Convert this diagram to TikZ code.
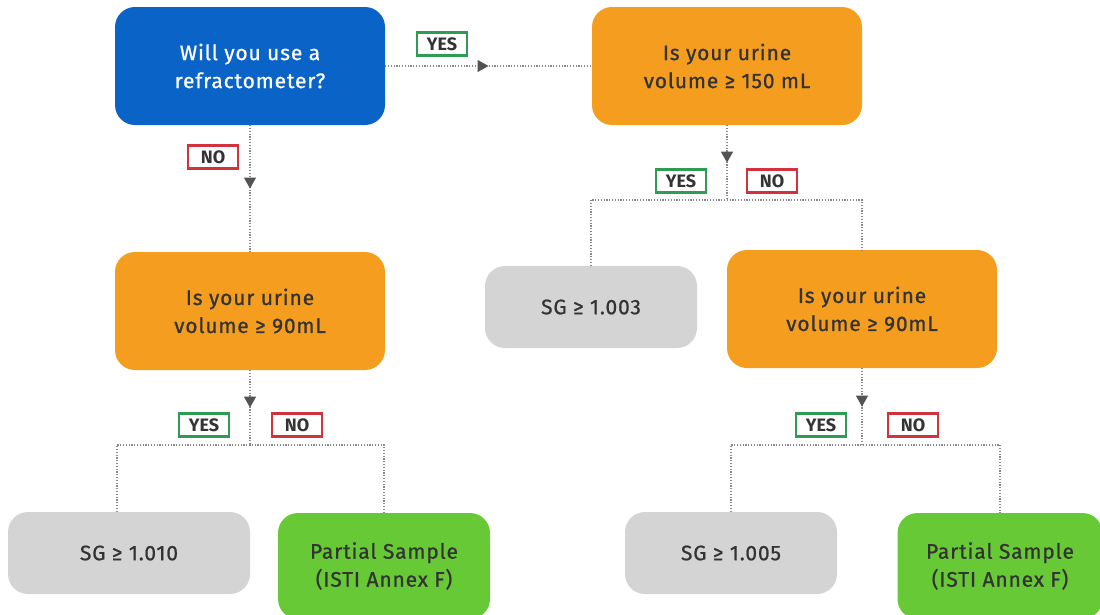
\documentclass[tikz,border=0pt]{standalone}
\usepackage{fontspec}
\setmainfont{Fira Sans}
\usetikzlibrary{arrows.meta,decorations.markings}

\definecolor{qblue}{HTML}{0A64C8}
\definecolor{qorange}{HTML}{F59D1E}
\definecolor{qgray}{HTML}{D4D4D4}
\definecolor{qgreen}{HTML}{66C935}
\definecolor{txtgray}{HTML}{333333}
\definecolor{yesgreen}{HTML}{2E9C52}
\definecolor{nored}{HTML}{D2323C}
\definecolor{linegray}{HTML}{8A8A8A}

\tikzset{
  box/.style={rounded corners=20pt, align=center, text=txtgray,
    font=\fontsize{21}{28}\selectfont\addfontfeatures{LetterSpace=4,FakeBold=0.8}, inner sep=0pt},
  question/.style={box, fill=qorange, minimum width=270pt, minimum height=118pt},
  result/.style={box, fill=qgray, minimum width=212pt, minimum height=82pt},
  sample/.style={box, fill=qgreen, minimum width=212pt, minimum height=106pt},
  tag/.style={draw, line width=2.6pt, fill=white, text=txtgray, inner sep=0pt,
    minimum width=50pt, minimum height=23pt, font=\bfseries\fontsize{18}{18}\selectfont},
  yestag/.style={tag, draw=yesgreen},
  notag/.style={tag, draw=nored},
  flow/.style={draw=linegray, line width=1.3pt, dash pattern=on 1.2pt off 1.6pt},
  midarrow/.style={postaction={decorate}, decoration={markings,
    mark=at position 0.5 with {\arrow[linegray!60!black]{Triangle[width=12pt,length=11pt]}}}}
}

\begin{document}
\begin{tikzpicture}[x=1pt,y=-1pt]
  \useasboundingbox (0,0) rectangle (1100,614);

  % Questions
  \node[box, fill=qblue, text=white, minimum width=270pt, minimum height=118pt]
    (refract) at (250,66) {Will you use a\\refractometer?};
  \node[question] (vol150) at (727,66) {Is your urine\\volume ≥ 150 mL};
  \node[question] (volleft) at (250,311) {Is your urine\\volume ≥ 90mL};
  \node[question] (volright) at (862,309) {Is your urine\\volume ≥ 90mL};

  % Outcomes
  \node[result, minimum width=242pt] (sgten) at (129,553) {SG ≥ 1.010};
  \node[sample] (partleft) at (384,566) {Partial Sample\\(ISTI Annex F)};
  \node[result] (sgthree) at (591,307) {SG ≥ 1.003};
  \node[result] (sgfive) at (731,553) {SG ≥ 1.005};
  \node[sample, minimum width=205pt] (partright) at (1000,566) {Partial Sample\\(ISTI Annex F)};

  % Junctions
  \coordinate (jtop) at (727,200);
  \coordinate (jleft) at (250,445);
  \coordinate (jright) at (862,445);

  % Connectors
  \draw[flow,midarrow] (refract.east) -- (vol150.west);
  \draw[flow,midarrow] (refract.south) -- (volleft.north);
  \draw[flow,midarrow] (vol150.south) -- (jtop);
  \draw[flow] (sgthree.north) |- (jtop) -| (volright.north);
  \draw[flow,midarrow] (volleft.south) -- (jleft);
  \draw[flow] ([xshift=-12pt]sgten.north) |- (jleft) -| (partleft.north);
  \draw[flow,midarrow] (volright.south) -- (jright);
  \draw[flow] (sgfive.north) |- (jright) -| (partright.north);

  % Answer tags
  \node[yestag] (yes1) at (442,44) {YES};
  \node[notag] (no1) at (213,157) {NO};
  \node[yestag] (yes2) at (681,181) {YES};
  \node[notag] (no2) at (772,181) {NO};
  \node[yestag] (yes3) at (204,425) {YES};
  \node[notag] (no3) at (297,425) {NO};
  \node[yestag] (yes4) at (821,425) {YES};
  \node[notag] (no4) at (913,425) {NO};
\end{tikzpicture}
\end{document}
